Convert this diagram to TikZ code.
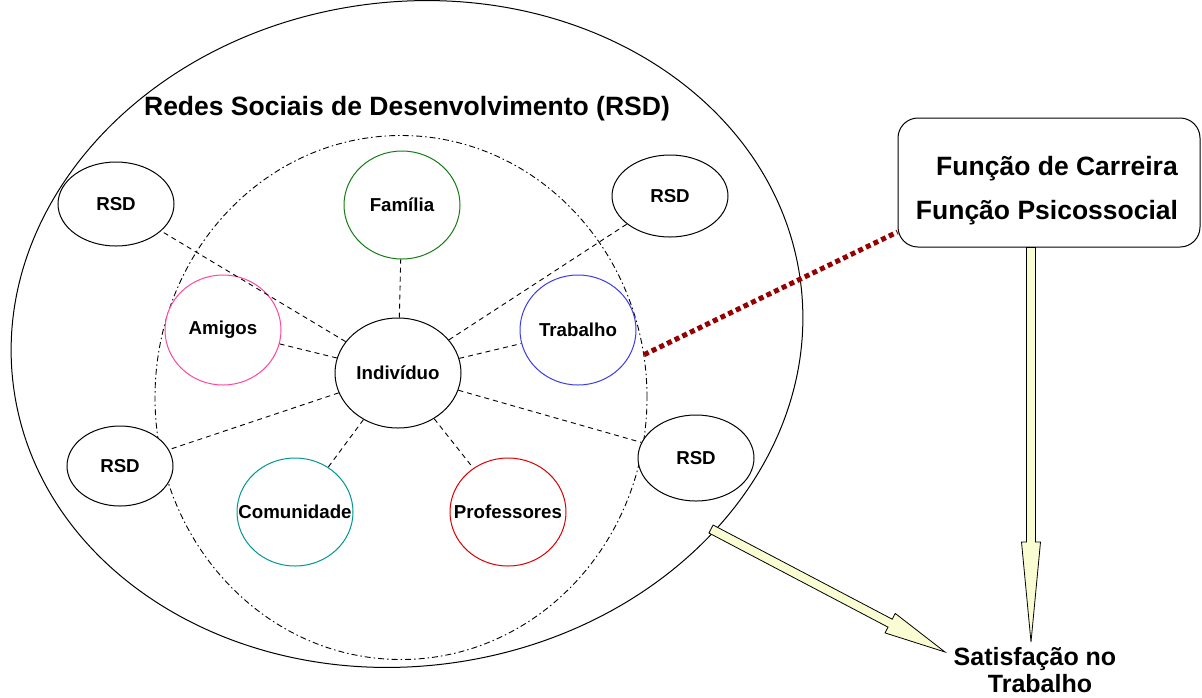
\documentclass[tikz,border=0pt]{standalone}
\usepackage{fontspec}
\setmainfont{Liberation Sans}
\usetikzlibrary{positioning,calc,shapes.geometric}
\definecolor{famgreen}{RGB}{20,125,20}
\definecolor{amipink}{RGB}{255,70,160}
\definecolor{trabblue}{RGB}{60,60,230}
\definecolor{comteal}{RGB}{0,150,150}
\definecolor{profred}{RGB}{220,0,0}
\definecolor{linkred}{RGB}{150,0,0}
\definecolor{arrfill}{RGB}{250,252,210}
\tikzset{
  bub/.style={ellipse,draw,fill=white,line width=1pt,inner ysep=0pt,inner xsep=-30pt,minimum width=116pt,minimum height=108pt,font=\fontsize{18.7}{22}\selectfont\bfseries},
  rsd/.style={bub,minimum height=84pt},
  lnk/.style={line width=0.9pt,dash pattern=on 5pt off 4pt},
  ring/.style={ellipse,draw,line width=0.9pt,dash pattern=on 6pt off 3pt on 1.5pt off 3pt,inner sep=0pt},
  dotl/.style={line width=5pt,linkred,dash pattern=on 5pt off 3.5pt},
  fat/.style={draw,line width=0.8pt,fill=arrfill,line join=miter},
  big/.style={font=\fontsize{26.5}{32}\selectfont\bfseries,inner sep=0pt,anchor=base},
}
% block arrow: from, to, head length, head half width
\newcommand\fatarrow[4]{%
  \coordinate (fatneck) at ($(#2)!#3!(#1)$);
  \draw[fat] ($(#1)!4.5pt!90:(#2)$) -- ($(fatneck)!4.5pt!-90:(#1)$)
    -- ($(fatneck)!#4!-90:(#1)$) -- (#2) -- ($(fatneck)!#4!90:(#1)$)
    -- ($(fatneck)!4.5pt!90:(#1)$) -- ($(#1)!4.5pt!-90:(#2)$) -- cycle;
}

\begin{document}
\begin{tikzpicture}[x=1pt,y=-1pt]
\useasboundingbox (0,0) rectangle (1202,697);

% outer network (slightly tilted) and inner ring
\node[ellipse,draw,line width=1pt,inner sep=0pt,minimum width=794pt,minimum height=664pt,rotate=8] (rede) at (407,334) {};
\node[ring,minimum width=492pt,minimum height=524pt] (circ) at (401,397.5) {};
\node[big] (titulo) at (407,115) {Redes Sociais de Desenvolvimento (RSD)};

% people around the individual
\node[bub,minimum width=126pt,minimum height=110pt] (ind) at (398,373) {Indivíduo};
\node[bub,draw=famgreen] (fam) at (402,205) {Família};
\node[bub,draw=amipink,minimum height=110pt] (ami) at (223,330) {Amigos};
\node[bub,draw=trabblue,minimum height=110pt] (trab) at (578,330) {Trabalho};
\node[bub,draw=comteal] (com) at (295,512) {Comunidade};
\node[bub,draw=profred] (prof) at (508,512) {Professores};
\node[rsd] (rsda) at (116,204) {RSD};
\node[rsd,minimum height=82pt] (rsdb) at (670,196) {RSD};
\node[rsd,minimum width=106pt,minimum height=80pt] (rsdc) at (120,466) {RSD};
\node[rsd,minimum height=86pt] (rsdd) at (696,458) {RSD};

\foreach \b in {fam,ami,trab,com,prof,rsda,rsdb,rsdc,rsdd}
  \draw[lnk] (ind) -- (\b);

% functions box
\node[draw,line width=1pt,rounded corners=20pt,minimum width=302pt,minimum height=129pt,inner sep=0pt] (func) at (1049,182.5) {};
\node[big] (carr) at (1057,175) {Função de Carreira};
\node[big] (psic) at (1047,219) {Função Psicossocial};
\draw[dotl] (circ.10) -- ([yshift=-49.5pt]func.west);

% outcome
\node[big,font=\fontsize{25}{30}\selectfont\bfseries] (sat) at (1035,665) {Satisfação no};
\node[big,font=\fontsize{25}{30}\selectfont\bfseries] (trb) at (1040,692) {Trabalho};
\coordinate (tipa) at (945,652);
\coordinate (tipb) at (1031,642);
\coordinate (taila) at (711,529);
\fatarrow{taila}{tipa}{62pt}{11pt}
\fatarrow{[xshift=-18pt]func.south}{tipb}{100pt}{9.5pt}
\end{tikzpicture}
\end{document}
